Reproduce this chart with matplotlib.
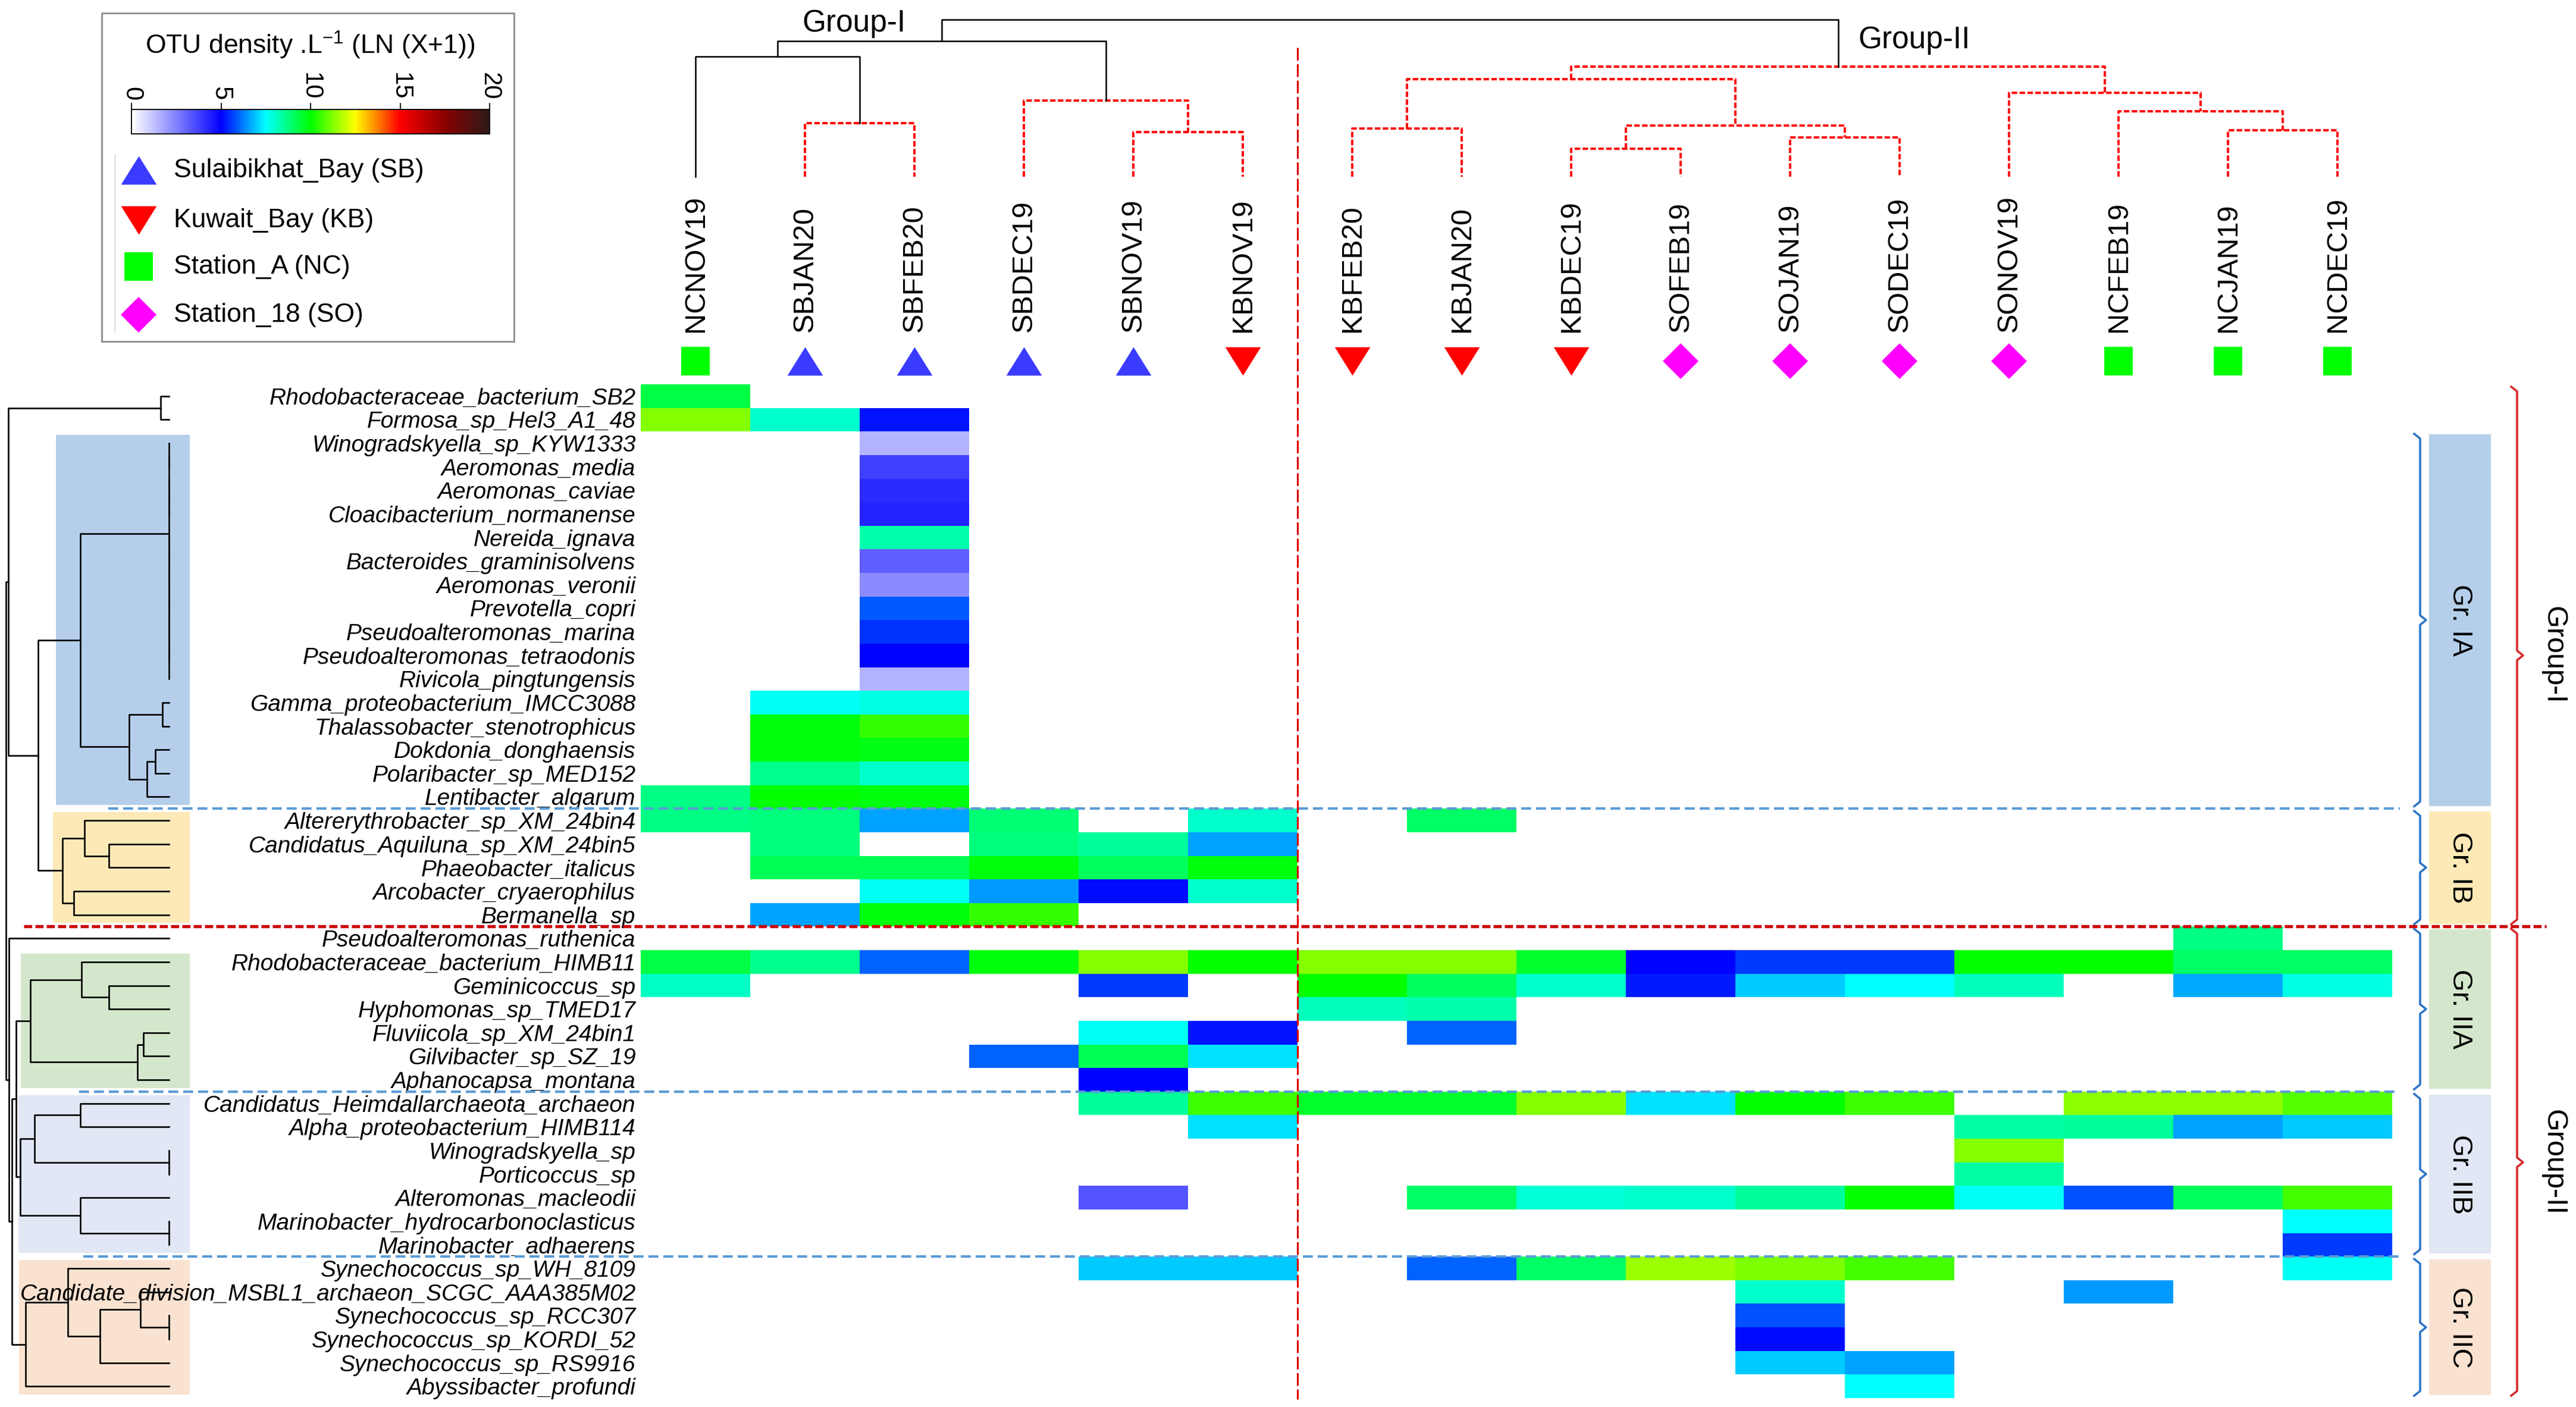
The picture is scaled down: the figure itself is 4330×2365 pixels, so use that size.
import matplotlib
matplotlib.use('Agg')
import matplotlib.pyplot as plt
import numpy as np
from matplotlib.colors import LinearSegmentedColormap
from matplotlib.patches import Rectangle
from matplotlib.transforms import blended_transform_factory

plt.rcParams['font.family'] = ['Liberation Sans', 'DejaVu Sans']
plt.rcParams['mathtext.fontset'] = 'custom'
plt.rcParams['mathtext.rm'] = 'Liberation Sans'
plt.rcParams['mathtext.it'] = 'Liberation Sans:italic'

n = np.nan

# ---- data ----
samples = ['NCNOV19', 'SBJAN20', 'SBFEB20', 'SBDEC19', 'SBNOV19', 'KBNOV19',
           'KBFEB20', 'KBJAN20', 'KBDEC19', 'SOFEB19', 'SOJAN19', 'SODEC19',
           'SONOV19', 'NCFEB19', 'NCJAN19', 'NCDEC19']
sites = ['NC', 'SB', 'SB', 'SB', 'SB', 'KB', 'KB', 'KB', 'KB', 'SO', 'SO', 'SO',
         'SO', 'NC', 'NC', 'NC']

taxa = ['Rhodobacteraceae_bacterium_SB2', 'Formosa_sp_Hel3_A1_48', 'Winogradskyella_sp_KYW1333',
        'Aeromonas_media', 'Aeromonas_caviae', 'Cloacibacterium_normanense', 'Nereida_ignava',
        'Bacteroides_graminisolvens', 'Aeromonas_veronii', 'Prevotella_copri',
        'Pseudoalteromonas_marina', 'Pseudoalteromonas_tetraodonis', 'Rivicola_pingtungensis',
        'Gamma_proteobacterium_IMCC3088', 'Thalassobacter_stenotrophicus', 'Dokdonia_donghaensis',
        'Polaribacter_sp_MED152', 'Lentibacter_algarum', 'Altererythrobacter_sp_XM_24bin4',
        'Candidatus_Aquiluna_sp_XM_24bin5', 'Phaeobacter_italicus', 'Arcobacter_cryaerophilus',
        'Bermanella_sp', 'Pseudoalteromonas_ruthenica', 'Rhodobacteraceae_bacterium_HIMB11',
        'Geminicoccus_sp', 'Hyphomonas_sp_TMED17', 'Fluviicola_sp_XM_24bin1', 'Gilvibacter_sp_SZ_19',
        'Aphanocapsa_montana', 'Candidatus_Heimdallarchaeota_archaeon', 'Alpha_proteobacterium_HIMB114',
        'Winogradskyella_sp', 'Porticoccus_sp', 'Alteromonas_macleodii',
        'Marinobacter_hydrocarbonoclasticus', 'Marinobacter_adhaerens', 'Synechococcus_sp_WH_8109',
        'Candidate_division_MSBL1_archaeon_SCGC_AAA385M02', 'Synechococcus_sp_RCC307',
        'Synechococcus_sp_KORDI_52', 'Synechococcus_sp_RS9916', 'Abyssibacter_profundi']

density = [
    [9.3, n, n, n, n, n, n, n, n, n, n, n, n, n, n, n],
    [11.3, 8.0, 5.2, n, n, n, n, n, n, n, n, n, n, n, n, n],
    [n, n, 1.5, n, n, n, n, n, n, n, n, n, n, n, n, n],
    [n, n, 3.8, n, n, n, n, n, n, n, n, n, n, n, n, n],
    [n, n, 4.2, n, n, n, n, n, n, n, n, n, n, n, n, n],
    [n, n, 4.3, n, n, n, n, n, n, n, n, n, n, n, n, n],
    [n, n, 8.3, n, n, n, n, n, n, n, n, n, n, n, n, n],
    [n, n, 3.2, n, n, n, n, n, n, n, n, n, n, n, n, n],
    [n, n, 2.3, n, n, n, n, n, n, n, n, n, n, n, n, n],
    [n, n, 5.9, n, n, n, n, n, n, n, n, n, n, n, n, n],
    [n, n, 5.5, n, n, n, n, n, n, n, n, n, n, n, n, n],
    [n, n, 5.0, n, n, n, n, n, n, n, n, n, n, n, n, n],
    [n, n, 1.5, n, n, n, n, n, n, n, n, n, n, n, n, n],
    [n, 7.6, 7.8, n, n, n, n, n, n, n, n, n, n, n, n, n],
    [n, 9.9, 10.5, n, n, n, n, n, n, n, n, n, n, n, n, n],
    [n, 9.9, 9.8, n, n, n, n, n, n, n, n, n, n, n, n, n],
    [n, 8.6, 8.0, n, n, n, n, n, n, n, n, n, n, n, n, n],
    [8.7, 10.0, 9.9, n, n, n, n, n, n, n, n, n, n, n, n, n],
    [8.7, 8.8, 6.6, 8.9, n, 8.0, n, 9.0, n, n, n, n, n, n, n, n],
    [n, 8.8, n, 8.8, 8.5, 6.6, n, n, n, n, n, n, n, n, n, n],
    [n, 9.2, 9.2, 9.9, 9.1, 9.9, n, n, n, n, n, n, n, n, n, n],
    [n, n, 7.6, 6.5, 5.1, 8.0, n, n, n, n, n, n, n, n, n, n],
    [n, 6.6, 9.9, 10.5, n, n, n, n, n, n, n, n, n, n, n, n],
    [n, n, n, n, n, n, n, n, n, n, n, n, n, n, 8.7, n],
    [9.3, 8.6, 6.0, 9.9, 11.3, 10.0, 11.3, 11.3, 9.6, 5.0, 5.6, 5.6, 10.0, 10.0, 9.0, 9.0],
    [8.1, n, n, n, 5.6, n, 10.0, 9.1, 8.0, 5.3, 7.0, 7.5, 8.2, n, 6.7, 7.8],
    [n, n, n, n, n, n, 8.2, 8.3, n, n, n, n, n, n, n, n],
    [n, n, n, n, 7.6, 5.2, n, 6.0, n, n, n, n, n, n, n, n],
    [n, n, n, 6.0, 9.2, 7.2, n, n, n, n, n, n, n, n, n, n],
    [n, n, n, n, 5.0, n, n, n, n, n, n, n, n, n, n, n],
    [n, n, n, n, 8.5, 10.6, 9.6, 9.6, 11.3, 7.2, 10.0, 10.6, n, 11.4, 11.4, 10.8],
    [n, n, n, n, n, 7.2, n, n, n, n, n, n, 8.4, 8.5, 6.6, 7.0],
    [n, n, n, n, n, n, n, n, n, n, n, n, 11.3, n, n, n],
    [n, n, n, n, n, n, n, n, n, n, n, n, 8.4, n, n, n],
    [n, n, n, n, 3.4, n, n, 9.0, 7.9, 8.0, 8.5, 10.0, 7.6, 5.8, 9.1, 10.7],
    [n, n, n, n, n, n, n, n, n, n, n, n, n, n, n, 7.5],
    [n, n, n, n, n, n, n, n, n, n, n, n, n, n, n, 5.6],
    [n, n, n, n, 7.0, 7.0, n, 6.0, 9.0, 11.5, 11.2, 10.7, n, n, n, 7.6],
    [n, n, n, n, n, n, n, n, n, n, 8.0, n, n, 6.5, n, n],
    [n, n, n, n, n, n, n, n, n, n, 5.8, n, n, n, n, n],
    [n, n, n, n, n, n, n, n, n, n, 5.1, n, n, n, n, n],
    [n, n, n, n, n, n, n, n, n, n, 7.0, 6.6, n, n, n, n],
    [n, n, n, n, n, n, n, n, n, n, n, 7.5, n, n, n, n],
]

# column dendrogram: (child a, child b, height); new nodes numbered from 16
col_links = [(1, 2, 90), (0, 16, 202), (4, 5, 75), (3, 18, 128), (17, 19, 228),
             (6, 7, 81), (8, 9, 47), (10, 11, 66), (22, 23, 86), (21, 24, 164),
             (14, 15, 78), (13, 26, 110), (12, 27, 141), (25, 28, 185), (20, 29, 264)]

# row dendrogram: new nodes numbered from 43
row_links = [(0, 1, 20),
             (2, 3, 0), (4, 5, 0), (44, 45, 0), (6, 7, 0), (10, 11, 0), (48, 12, 0),
             (8, 9, 0), (50, 49, 0), (47, 51, 0), (46, 52, 0),
             (13, 14, 15), (15, 16, 32), (55, 17, 52), (54, 56, 95), (53, 57, 210),
             (19, 20, 142), (18, 59, 200), (21, 22, 225), (60, 61, 252), (58, 62, 310),
             (43, 63, 380),
             (25, 26, 142), (24, 65, 207), (27, 28, 60), (67, 29, 75), (66, 68, 328),
             (30, 31, 210), (32, 33, 0), (70, 71, 318), (35, 36, 0), (34, 73, 210),
             (72, 74, 352),
             (39, 40, 0), (38, 76, 68), (77, 41, 163), (37, 78, 240), (79, 42, 340),
             (69, 75, 362), (81, 80, 372), (23, 82, 379), (64, 83, 386)]

sub_groups = ['Gr. IA', 'Gr. IB', 'Gr. IIA', 'Gr. IIB', 'Gr. IIC']
sub_colors = ['#B5CFEB', '#FDE9B6', '#D4E7CC', '#E1E7F4', '#FAE2D0']
clade_rows = [(2, 17), (18, 22), (24, 29), (30, 36), (37, 42)]
clade_reach = [267, 275, 350, 357, 355]
bar_rows = [(2, 17), (18, 22), (23, 29), (30, 36), (37, 42)]
main_groups = ['Group-I', 'Group-II']
main_rows = [(0, 22), (23, 42)]

site_names = ['Sulaibikhat_Bay (SB)', 'Kuwait_Bay (KB)', 'Station_A (NC)', 'Station_18 (SO)']
site_codes = ['SB', 'KB', 'NC', 'SO']
site_colors = {'SB': '#3B3BFF', 'KB': '#FF0000', 'NC': '#00FF00', 'SO': '#FF00FF'}
tri_up = [(0, 0.8), (-1, -0.8), (1, -0.8)]
tri_dn = [(0, -0.8), (-1, 0.8), (1, 0.8)]
site_markers = {'SB': (tri_up, 43), 'KB': (tri_dn, 43), 'NC': ('s', 35), 'SO': ('D', 31)}

cmap = LinearSegmentedColormap.from_list('otu', [
    (0.0, '#FFFFFF'), (0.25, '#0000FF'), (0.375, '#00FFFF'), (0.5, '#00FF00'),
    (0.625, '#FFFF00'), (0.75, '#FF0000'), (0.875, '#8B0000'), (1.0, '#2B1A17')])
cmap.set_bad('white')

W, H = 4330, 2365


def box(x0, y0, x1, y1):
    return [x0 / W, 1 - y1 / H, (x1 - x0) / W, (y1 - y0) / H]


def tree(n_leaves, links):
    pos = [float(i) for i in range(n_leaves)]
    hgt = [0.0] * n_leaves
    for a, b, h in links:
        pos.append((pos[a] + pos[b]) / 2)
        hgt.append(h)
    return pos, hgt


fig = plt.figure(figsize=(W / 100, H / 100), dpi=100)

# ---- left dendrogram ----
ld = fig.add_axes(box(0, 646, 323, 2350))
ld.set_xlim(400, -55)
ld.set_ylim(len(taxa) - 0.5, -0.5)
ld.axis('off')
for (r0, r1), reach, c in zip(clade_rows, clade_reach, sub_colors):
    ld.add_patch(Rectangle((-50, r0 - 0.35), reach + 50, r1 - r0 + 0.7,
                           facecolor=c, edgecolor='none', zorder=0))
rpos, rh = tree(len(taxa), row_links)
for a, b, h in row_links:
    ld.plot([rh[a], h, h, rh[b]], [rpos[a], rpos[a], rpos[b], rpos[b]],
            color='black', lw=1.9, zorder=2)

# ---- heatmap ----
Z = np.ma.masked_invalid(np.array(density))
hm = fig.add_axes(box(1077, 646, 4021, 2350))
mesh = hm.pcolormesh(np.arange(len(samples) + 1) - 0.5, np.arange(len(taxa) + 1) - 0.5, Z,
                     cmap=cmap, vmin=0, vmax=20, shading='flat')
hm.set_xlim(-0.5, len(samples) - 0.5)
hm.set_ylim(len(taxa) - 0.5, -0.5)
hm.set_xticks([])
hm.set_yticks(range(len(taxa)))
hm.set_yticklabels(taxa, fontsize=28, fontstyle='italic')
hm.tick_params(axis='y', length=0, pad=6)
for s in hm.spines.values():
    s.set_visible(False)

# ---- top dendrogram, labels and site markers ----
td = fig.add_axes(box(1077, 0, 4021, 646))
td.set_xlim(-0.5, len(samples) - 0.5)
td.set_ylim(-349, 297)
td.axis('off')
cpos, ch = tree(len(samples), col_links)
for a, b, h in col_links:
    xs = [cpos[a], cpos[a], cpos[b], cpos[b]]
    ys = [ch[a], h, h, ch[b]]
    if h >= 200:
        td.plot(xs, ys, color='black', lw=1.8)
    else:
        td.plot(xs, ys, color='#FF0000', lw=2.8, dashes=(2.4, 1.0))
td.text(1.45, 257, 'Group-I', fontsize=37, ha='center', va='center')
td.text(10.62, 230, 'Group-II', fontsize=37, ha='left', va='center')
for i, s in enumerate(samples):
    td.text(i, -261, s, rotation=90, ha='center', va='bottom', fontsize=35)
for code in site_codes:
    idx = [i for i, s in enumerate(sites) if s == code]
    mk, ms = site_markers[code]
    td.plot(idx, [-310] * len(idx), linestyle='none', marker=mk, markersize=ms,
            color=site_colors[code], markeredgewidth=0)

# ---- right side group bars and braces ----
rg = fig.add_axes(box(4030, 646, 4330, 2350))
rg.set_xlim(4030, 4330)
rg.set_ylim(len(taxa) - 0.5, -0.5)
rg.axis('off')


def brace(ax, x, y0, y1, color):
    ym = (y0 + y1) / 2
    ax.plot([x - 10, x, x, x + 10, x, x, x - 10],
            [y0, y0 + 0.2, ym - 0.2, ym, ym + 0.2, y1 - 0.2, y1],
            color=color, lw=2.6, solid_joinstyle='round')


for (r0, r1), label, c in zip(bar_rows, sub_groups, sub_colors):
    rg.add_patch(Rectangle((4083, r0 - 0.38), 104, r1 - r0 + 0.76, facecolor=c, edgecolor='none'))
    rg.text(4135, (r0 + r1) / 2, label, rotation=-90, ha='center', va='center', fontsize=34)
    brace(rg, 4068, r0 - 0.4, r1 + 0.4, '#2E75C8')
for (r0, r1), label in zip(main_rows, main_groups):
    brace(rg, 4231, r0 - 0.4, r1 + 0.4, '#D62A2A')
    rg.text(4292, (r0 + r1) / 2, label, rotation=-90, ha='center', va='center', fontsize=35)

# ---- colour bar ----
cax = fig.add_axes(box(221, 184, 823, 225))
cb = fig.colorbar(mesh, cax=cax, orientation='horizontal', ticks=[0, 5, 10, 15, 20])
cax.xaxis.set_ticks_position('top')
cax.tick_params(axis='x', labelsize=30, length=8, width=1.3, pad=3)
for tl in cax.get_xticklabels():
    tl.set_rotation(-90)
cb.outline.set_linewidth(1.3)

# ---- overlay: legend box, separators ----
ov = fig.add_axes([0, 0, 1, 1])
ov.set_xlim(0, W)
ov.set_ylim(H, 0)
ov.set_autoscale_on(False)
ov.axis('off')
ov.set_zorder(5)
ov.add_patch(Rectangle((171, 22), 693, 552, facecolor='none', edgecolor='#8C8C8C', lw=2.0))
ov.plot([193, 193], [259, 558], color='#D0D0D0', lw=1)
ov.text(521, 76, 'OTU density .L$^{-1}$ (LN (X+1))', ha='center', va='center', fontsize=32)
for k, code in enumerate(site_codes):
    y = [286, 370, 448, 529][k]
    mk, ms = site_markers[code]
    ov.plot([233], [y], linestyle='none', marker=mk, markersize=ms,
            color=site_colors[code], markeredgewidth=0)
    ov.text(292, y, site_names[k], ha='left', va='center', fontsize=32)

h_tr = blended_transform_factory(fig.transFigure, hm.transData)
v_tr = blended_transform_factory(hm.transData, fig.transFigure)
ov.plot([182 / W, 4034 / W], [17.5, 17.5], transform=h_tr, color='#5B9BD5', lw=3.0, dashes=(4, 2))
ov.plot([133 / W, 4030 / W], [29.5, 29.5], transform=h_tr, color='#5B9BD5', lw=3.0, dashes=(4, 2))
ov.plot([140 / W, 4035 / W], [36.5, 36.5], transform=h_tr, color='#5B9BD5', lw=3.0, dashes=(4, 2))
ov.plot([40 / W, 4280 / W], [22.5, 22.5], transform=h_tr, color='#CC0000', lw=3.8, dashes=(2.6, 1.0))
ov.plot([5.5, 5.5], [1 - 80 / H, 1 - 2352 / H], transform=v_tr, color='#DD0000', lw=2.2, dashes=(7, 2))

fig.savefig('out.png', dpi=100, facecolor='white')
